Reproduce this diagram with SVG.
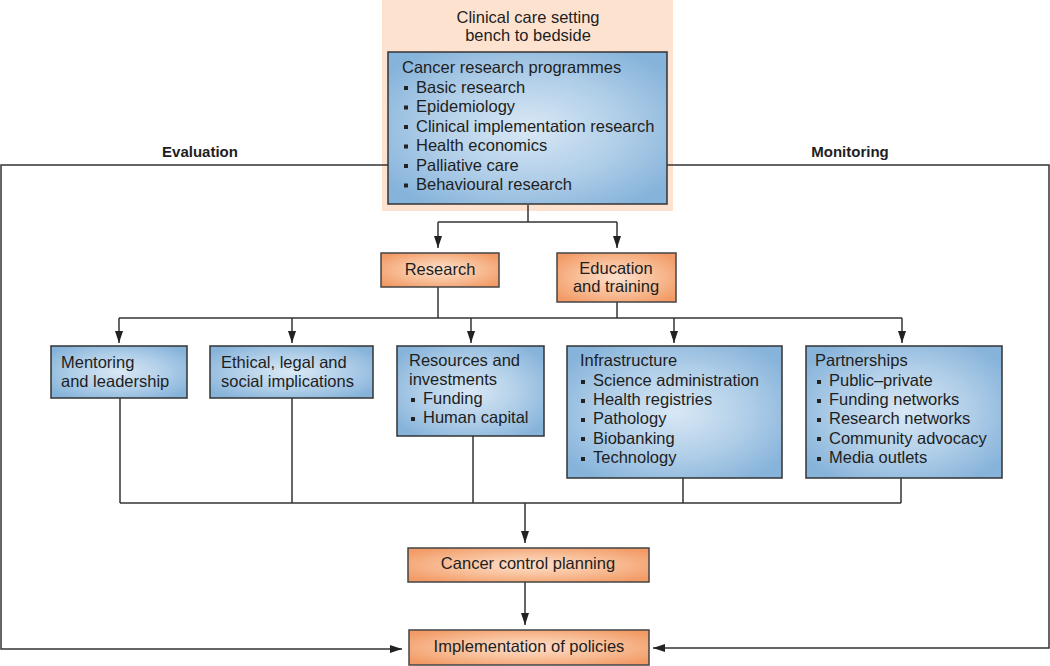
<svg xmlns="http://www.w3.org/2000/svg" width="1050" height="666" viewBox="0 0 1050 666">
  <defs>
    <radialGradient id="blueG" cx="0.5" cy="0.5" r="0.62">
      <stop offset="0" stop-color="#d9e8f5"/>
      <stop offset="0.55" stop-color="#b0cee8"/>
      <stop offset="1" stop-color="#86b3da"/>
    </radialGradient>
    <radialGradient id="orangeG" cx="0.5" cy="0.5" r="0.62">
      <stop offset="0" stop-color="#fde0cc"/>
      <stop offset="0.55" stop-color="#f8bd96"/>
      <stop offset="1" stop-color="#f29b66"/>
    </radialGradient>
    <marker id="arr" viewBox="0 0 12 8" refX="12" refY="4" markerWidth="12" markerHeight="8" markerUnits="userSpaceOnUse" orient="auto">
      <path d="M0,0 L12,4 L0,8 z" fill="#222"/>
    </marker>
    <style>
      text { font-family: "Liberation Sans", Arial, sans-serif; font-size: 16.5px; fill: #1e1e1e; }
      .b { font-weight: bold; font-size: 15px; }
      .c { text-anchor: middle; }
      .blue { fill: url(#blueG); stroke: #333; stroke-width: 1.5; }
      .orange { fill: url(#orangeG); stroke: #444; stroke-width: 1.5; }
      .bul { fill: #222; }
      .ln { fill: none; stroke: #333; stroke-width: 1.5; }
      .ar { fill: none; stroke: #333; stroke-width: 1.5; marker-end: url(#arr); }
    </style>
  </defs>
  <rect width="1050" height="666" fill="#fff"/>

  <g id="clinical-setting">
    <rect x="382" y="0" width="291" height="211" fill="#fde2d0"/>
    <text class="c" x="528" y="23">Clinical care setting</text>
    <text class="c" x="528" y="41">bench to bedside</text>
  </g>

  <g id="connectors">
    <polyline class="ar" points="388,165 1,165 1,649 402,649"/>
    <polyline class="ar" points="667,165 1049,165 1049,648 653,648"/>
    <line class="ln" x1="528" y1="205" x2="528" y2="222"/>
    <line class="ln" x1="438" y1="222" x2="617" y2="222"/>
    <line class="ar" x1="438" y1="222" x2="438" y2="248"/>
    <line class="ar" x1="617" y1="222" x2="617" y2="248"/>
    <line class="ln" x1="438" y1="287" x2="438" y2="318"/>
    <line class="ln" x1="617" y1="302" x2="617" y2="318"/>
    <line class="ln" x1="119" y1="318" x2="902" y2="318"/>
    <line class="ar" x1="119" y1="318" x2="119" y2="343"/>
    <line class="ar" x1="292" y1="318" x2="292" y2="343"/>
    <line class="ar" x1="471" y1="318" x2="471" y2="343"/>
    <line class="ar" x1="674" y1="318" x2="674" y2="343"/>
    <line class="ar" x1="902" y1="318" x2="902" y2="343"/>
    <line class="ln" x1="120" y1="398" x2="120" y2="503"/>
    <line class="ln" x1="292" y1="398" x2="292" y2="503"/>
    <line class="ln" x1="473" y1="436" x2="473" y2="503"/>
    <line class="ln" x1="683" y1="478" x2="683" y2="503"/>
    <line class="ln" x1="901" y1="478" x2="901" y2="503"/>
    <line class="ln" x1="120" y1="503" x2="901" y2="503"/>
    <line class="ar" x1="525" y1="503" x2="525" y2="543"/>
    <line class="ar" x1="525" y1="582" x2="525" y2="625"/>
  </g>

  <text class="b c" x="200" y="157">Evaluation</text>
  <text class="b c" x="850" y="157">Monitoring</text>

  <g id="cancer-research">
    <rect class="blue" x="388" y="52" width="279" height="152"/>
    <text x="402" y="73">Cancer research programmes</text>
    <rect class="bul" x="404" y="86" width="4" height="4"/>
    <text x="416" y="92.5">Basic research</text>
    <rect class="bul" x="404" y="105.5" width="4" height="4"/>
    <text x="416" y="112">Epidemiology</text>
    <rect class="bul" x="404" y="125" width="4" height="4"/>
    <text x="416" y="131.5">Clinical implementation research</text>
    <rect class="bul" x="404" y="144.5" width="4" height="4"/>
    <text x="416" y="151">Health economics</text>
    <rect class="bul" x="404" y="164" width="4" height="4"/>
    <text x="416" y="170.5">Palliative care</text>
    <rect class="bul" x="404" y="183.5" width="4" height="4"/>
    <text x="416" y="190">Behavioural research</text>
  </g>

  <g id="research">
    <rect class="orange" x="381" y="253" width="118" height="34"/>
    <text class="c" x="440" y="275">Research</text>
  </g>

  <g id="education">
    <rect class="orange" x="557" y="253" width="119" height="49"/>
    <text class="c" x="616" y="274">Education</text>
    <text class="c" x="616" y="292">and training</text>
  </g>

  <g id="mentoring">
    <rect class="blue" x="51" y="346" width="136" height="52"/>
    <text x="61" y="368">Mentoring</text>
    <text x="61" y="387">and leadership</text>
  </g>

  <g id="ethical">
    <rect class="blue" x="210" y="346" width="163" height="52"/>
    <text x="221" y="368">Ethical, legal and</text>
    <text x="221" y="387">social implications</text>
  </g>

  <g id="resources">
    <rect class="blue" x="397" y="346" width="147" height="90"/>
    <text x="409" y="366">Resources and</text>
    <text x="409" y="385">investments</text>
    <rect class="bul" x="411" y="398" width="4" height="4"/>
    <text x="423" y="404">Funding</text>
    <rect class="bul" x="411" y="417" width="4" height="4"/>
    <text x="423" y="423">Human capital</text>
  </g>

  <g id="infrastructure">
    <rect class="blue" x="567" y="346" width="215" height="132"/>
    <text x="580" y="366">Infrastructure</text>
    <rect class="bul" x="581" y="380" width="4" height="4"/>
    <text x="593" y="386">Science administration</text>
    <rect class="bul" x="581" y="399" width="4" height="4"/>
    <text x="593" y="405">Health registries</text>
    <rect class="bul" x="581" y="418" width="4" height="4"/>
    <text x="593" y="424">Pathology</text>
    <rect class="bul" x="581" y="437" width="4" height="4"/>
    <text x="593" y="443.5">Biobanking</text>
    <rect class="bul" x="581" y="457" width="4" height="4"/>
    <text x="593" y="463">Technology</text>
  </g>

  <g id="partnerships">
    <rect class="blue" x="806" y="346" width="196" height="132"/>
    <text x="815" y="366">Partnerships</text>
    <rect class="bul" x="817" y="380" width="4" height="4"/>
    <text x="829" y="386">Public–private</text>
    <rect class="bul" x="817" y="399" width="4" height="4"/>
    <text x="829" y="405">Funding networks</text>
    <rect class="bul" x="817" y="418" width="4" height="4"/>
    <text x="829" y="424">Research networks</text>
    <rect class="bul" x="817" y="437" width="4" height="4"/>
    <text x="829" y="443.5">Community advocacy</text>
    <rect class="bul" x="817" y="457" width="4" height="4"/>
    <text x="829" y="463">Media outlets</text>
  </g>

  <g id="cancer-control">
    <rect class="orange" x="408" y="548" width="241" height="34"/>
    <text class="c" x="528" y="569">Cancer control planning</text>
  </g>

  <g id="implementation">
    <rect class="orange" x="409" y="630" width="240" height="35"/>
    <text class="c" x="529" y="652">Implementation of policies</text>
  </g>
</svg>
